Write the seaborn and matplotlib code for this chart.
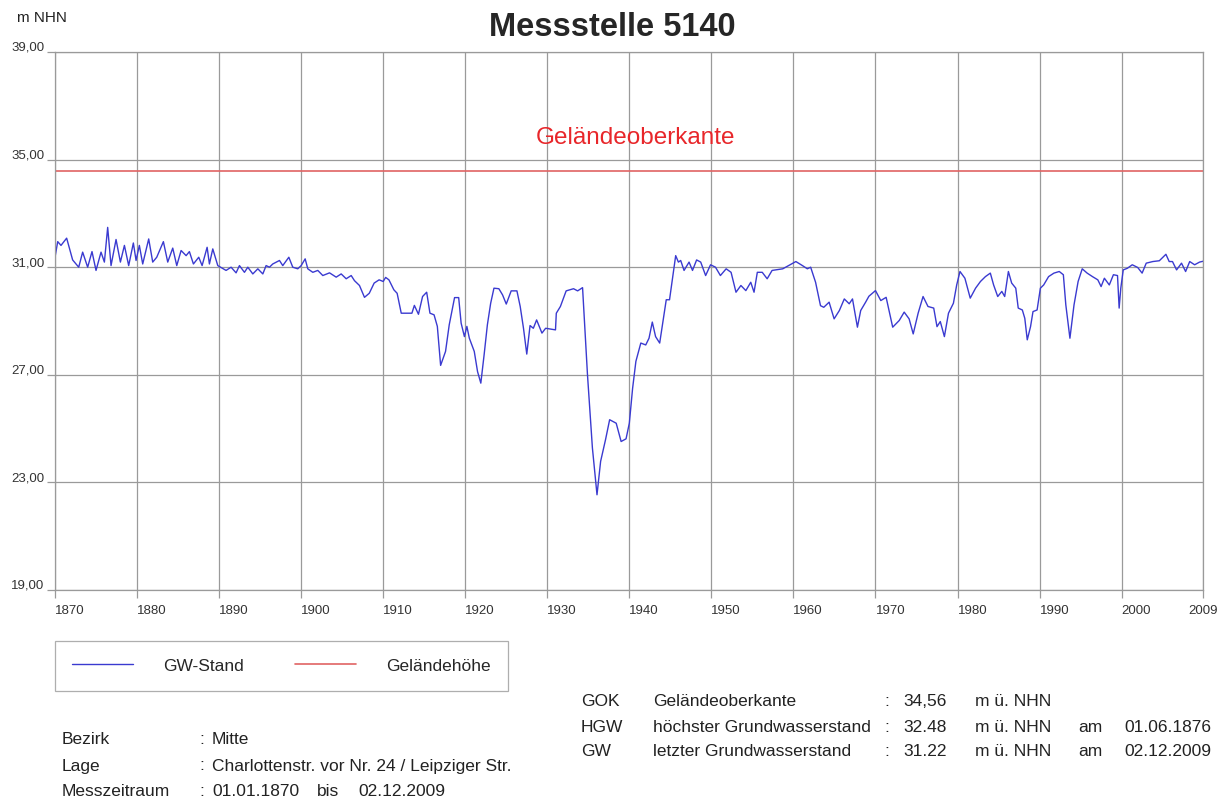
import matplotlib
matplotlib.use("Agg")
import matplotlib.pyplot as plt
import matplotlib.transforms as mtrans
import seaborn as sns

years = [
    1870.0, 1870.33, 1870.73, 1871.42, 1872.15, 1872.89, 1873.37, 1873.98, 1874.51, 1875.0,
    1875.61, 1876.02, 1876.42, 1876.83, 1877.44, 1877.97, 1878.46, 1878.98, 1879.55, 1879.88,
    1880.28, 1880.69, 1881.42, 1881.91, 1882.4, 1883.21, 1883.74, 1884.35, 1884.84, 1885.37,
    1885.98, 1886.38, 1886.87, 1887.52, 1887.93, 1888.54, 1888.82, 1889.23, 1889.84, 1890.85,
    1891.46, 1892.07, 1892.48, 1893.09, 1893.5, 1894.11, 1894.72, 1895.33, 1895.73, 1896.14,
    1896.54, 1897.36, 1897.76, 1898.5, 1898.98, 1899.59, 1900.0, 1900.49, 1900.81, 1901.42,
    1902.03, 1902.64, 1903.46, 1904.27, 1904.88, 1905.49, 1906.1, 1906.5, 1907.11, 1907.72,
    1908.3, 1908.9, 1909.5, 1910.0, 1910.3, 1910.7, 1911.3, 1911.7, 1912.2, 1913.5,
    1913.8, 1914.3, 1914.8, 1915.3, 1915.7, 1916.2, 1916.6, 1917.0, 1917.6, 1918.05,
    1918.7, 1919.2, 1919.5, 1919.9, 1920.2, 1920.5, 1921.1, 1921.5, 1921.9, 1922.3,
    1922.7, 1923.1, 1923.5, 1924.1, 1924.55, 1925.0, 1925.6, 1926.3, 1926.7, 1927.1,
    1927.5, 1927.9, 1928.3, 1928.7, 1929.35, 1929.8, 1931.0, 1931.1, 1931.6, 1932.3,
    1933.2, 1933.7, 1934.3, 1934.9, 1935.5, 1936.06, 1936.5, 1937.1, 1937.6, 1938.4,
    1939.0, 1939.6, 1940.0, 1940.4, 1940.8, 1941.4, 1942.0, 1942.4, 1942.8, 1943.2,
    1943.7, 1944.1, 1944.5, 1944.9, 1945.2, 1945.65, 1945.98, 1946.26, 1946.67, 1947.28,
    1947.7, 1948.2, 1948.7, 1949.3, 1949.9, 1950.5, 1951.1, 1951.8, 1952.4, 1953.0,
    1953.6, 1954.2, 1954.8, 1955.2, 1955.6, 1956.2, 1956.8, 1957.4, 1958.7, 1960.3,
    1961.1, 1961.7, 1962.1, 1962.7, 1963.3, 1963.7, 1964.35, 1964.96, 1965.6, 1966.2,
    1966.8, 1967.2, 1967.8, 1968.2, 1968.8, 1969.2, 1970.0, 1970.65, 1971.3, 1972.1,
    1972.9, 1973.5, 1974.1, 1974.6, 1975.2, 1975.8, 1976.4, 1977.1, 1977.5, 1977.9,
    1978.4, 1978.9, 1979.5, 1979.9, 1980.3, 1980.9, 1981.55, 1982.2, 1982.8, 1983.4,
    1984.0, 1984.4, 1984.9, 1985.4, 1985.75, 1986.2, 1986.6, 1987.1, 1987.4, 1987.9,
    1988.2, 1988.5, 1988.9, 1989.2, 1989.7, 1990.1, 1990.5, 1991.1, 1991.75, 1992.4,
    1992.9, 1993.2, 1993.7, 1994.2, 1994.7, 1995.2, 1995.8, 1996.45, 1997.1, 1997.5,
    1997.9, 1998.5, 1999.0, 1999.5, 1999.7, 1999.9, 2000.2, 2000.7, 2001.3, 2001.96,
    2002.5, 2003.0, 2003.8, 2004.6, 2005.4, 2005.8, 2006.2, 2006.7, 2007.3, 2007.8,
    2008.3, 2008.9, 2009.5, 2009.92,
]
levels = [
    31.37, 31.95, 31.81, 32.08, 31.27, 31.0, 31.56, 31.0, 31.58, 30.88,
    31.56, 31.19, 32.48, 31.06, 32.03, 31.19, 31.81, 31.06, 31.9, 31.25,
    31.81, 31.12, 32.05, 31.19, 31.37, 31.95, 31.19, 31.71, 31.06, 31.62,
    31.43, 31.58, 31.12, 31.37, 31.06, 31.74, 31.12, 31.68, 31.06, 30.88,
    31.0, 30.79, 31.06, 30.81, 31.0, 30.75, 30.94, 30.75, 31.06, 31.0,
    31.12, 31.25, 31.06, 31.37, 31.0, 30.94, 31.06, 31.31, 30.94, 30.81,
    30.88, 30.69, 30.79, 30.63, 30.75, 30.57, 30.69, 30.5, 30.32, 29.88,
    30.03, 30.41, 30.53, 30.47, 30.62, 30.53, 30.16, 30.03, 29.29, 29.29,
    29.58, 29.25, 29.91, 30.07, 29.29, 29.23, 28.8, 27.35, 27.87, 28.86,
    29.87, 29.87, 28.92, 28.42, 28.8, 28.36, 27.87, 27.12, 26.69, 27.74,
    28.86, 29.66, 30.22, 30.2, 29.97, 29.63, 30.12, 30.12, 29.54, 28.73,
    27.77, 28.83, 28.73, 29.04, 28.55, 28.73, 28.67, 29.29, 29.54, 30.12,
    30.2, 30.12, 30.24, 27.0, 24.28, 22.54, 23.78, 24.59, 25.33, 25.2,
    24.52, 24.62, 25.2, 26.5, 27.5, 28.18, 28.11, 28.36, 28.96, 28.42,
    28.18, 28.98, 29.79, 29.79, 30.44, 31.43, 31.19, 31.25, 30.88, 31.19,
    30.88, 31.27, 31.19, 30.69, 31.09, 31.0, 30.69, 30.94, 30.81, 30.07,
    30.32, 30.13, 30.44, 30.07, 30.81, 30.81, 30.57, 30.88, 30.94, 31.21,
    31.06, 30.94, 31.0, 30.44, 29.57, 29.51, 29.7, 29.08, 29.39, 29.82,
    29.64, 29.82, 28.77, 29.39, 29.7, 29.92, 30.13, 29.76, 29.88, 28.77,
    29.02, 29.33, 29.08, 28.52, 29.29, 29.91, 29.54, 29.48, 28.79, 28.98,
    28.42, 29.29, 29.66, 30.34, 30.84, 30.59, 29.85, 30.22, 30.47, 30.65,
    30.78, 30.34, 29.91, 30.1, 29.91, 30.84, 30.41, 30.22, 29.48, 29.41,
    29.1, 28.3, 28.79, 29.35, 29.41, 30.22, 30.34, 30.65, 30.78, 30.84,
    30.72, 29.6, 28.36, 29.6, 30.47, 30.94, 30.78, 30.65, 30.53, 30.28,
    30.59, 30.34, 30.72, 30.69, 29.48, 30.22, 30.9, 30.96, 31.09, 30.99,
    30.78, 31.15, 31.21, 31.24, 31.48, 31.21, 31.21, 30.9, 31.15, 30.84,
    31.21, 31.09, 31.19, 31.22,
]

gok = 34.56
start_year, end_year = 1870.0, 2009.92
xtick_pos = [1870, 1880, 1890, 1900, 1910, 1920, 1930, 1940, 1950, 1960, 1970, 1980, 1990, 2000, 2009.92]
xtick_labels = ["1870", "1880", "1890", "1900", "1910", "1920", "1930", "1940",
                "1950", "1960", "1970", "1980", "1990", "2000", "2009"]
ytick_pos = [19, 23, 27, 31, 35, 39]
ytick_labels = ["19,00", "23,00", "27,00", "31,00", "35,00", "39,00"]

sns.set_style("white")
plt.rcParams["font.family"] = ["Liberation Sans", "DejaVu Sans"]

W, H = 1223, 801
fig = plt.figure(figsize=(W / 100, H / 100), dpi=100)
ax = fig.add_axes([55 / W, 1 - 590 / H, (1203 - 55) / W, (590 - 52) / H])

grey = "#9a9a9a"
blue = "#3a3ad0"
red = "#e06464"

sns.lineplot(x=years, y=levels, ax=ax, color=blue, lw=1.0,
             sort=False, estimator=None, label="GW-Stand")
ax.axhline(gok, color=red, lw=1.2, label="Geländehöhe")

ax.set_xlim(start_year, end_year)
ax.set_ylim(19, 39)
ax.set_xticks(xtick_pos)
ax.set_xticklabels(xtick_labels)
ax.set_yticks(ytick_pos)
ax.set_yticklabels(ytick_labels)
ax.grid(True, color=grey, lw=0.9)
for sp in ax.spines.values():
    sp.set_color(grey)
    sp.set_linewidth(0.9)
ax.tick_params(axis="both", direction="out", color=grey, length=6, width=0.9,
               labelcolor="#333333", bottom=True, left=True)
ax.tick_params(axis="x", labelsize=9.5, pad=5)
ax.tick_params(axis="y", labelsize=9.5, pad=1.5)
ax.set_xlabel("")
ax.set_ylabel("")

for lab in ax.get_xticklabels()[:-1]:
    lab.set_horizontalalignment("left")
shift_up = mtrans.ScaledTranslation(0, 4 / 72, fig.dpi_scale_trans)
for lab in ax.get_yticklabels():
    lab.set_transform(lab.get_transform() + shift_up)

ax.text(1940.8, 35.8, "Geländeoberkante", color="#e8262a", fontsize=17.5,
        ha="center", va="center")

handles, labels = ax.get_legend_handles_labels()
ax.get_legend().remove()
leg = fig.legend(handles, labels, loc="upper left",
                 bbox_to_anchor=(55 / W, 1 - 641 / H), ncol=2, fontsize=12.5,
                 handlelength=3.5, handletextpad=1.7, columnspacing=3.0,
                 borderpad=1.0, borderaxespad=0, frameon=True, fancybox=False)
leg.get_frame().set_edgecolor(grey)
leg.get_frame().set_linewidth(0.9)

fig.text(612 / W, 1 - 27 / H, "Messstelle 5140", fontsize=23.5, fontweight="bold",
         ha="center", va="center")
fig.text(17 / W, 1 - 18 / H, "m NHN", fontsize=11, ha="left", va="center", color="#222222")

def ftext(x, y, s, **kw):
    fig.text(x / W, 1 - y / H, s, fontsize=12.5, ha="left", va="center", color="#222222", **kw)

# Stammdaten links unten
ftext(62, 740, "Bezirk")
ftext(199, 740, ":")
ftext(212, 740, "Mitte")
ftext(62, 766, "Lage")
ftext(199, 766, ":")
ftext(212, 766, "Charlottenstr. vor Nr. 24 / Leipziger Str.")
ftext(62, 792, "Messzeitraum")
ftext(199, 792, ":")
ftext(212, 792, "01.01.1870")
ftext(317, 792, "bis")
ftext(358, 792, "02.12.2009")

# Kennwerte rechts
rows = [
    (702, "GOK", "Geländeoberkante", "34,56", None, None),
    (727, "HGW", "höchster Grundwasserstand", "32.48", "am", "01.06.1876"),
    (752, "GW", "letzter Grundwasserstand", "31.22", "am", "02.12.2009"),
]
for y, k, name, val, am, date in rows:
    ftext(581, y, k)
    ftext(653, y, name)
    ftext(884, y, ":")
    ftext(903, y, val)
    ftext(975, y, "m ü. NHN")
    if am:
        ftext(1078, y, am)
        ftext(1124, y, date)

fig.savefig("out.png", dpi=100, facecolor="white")
